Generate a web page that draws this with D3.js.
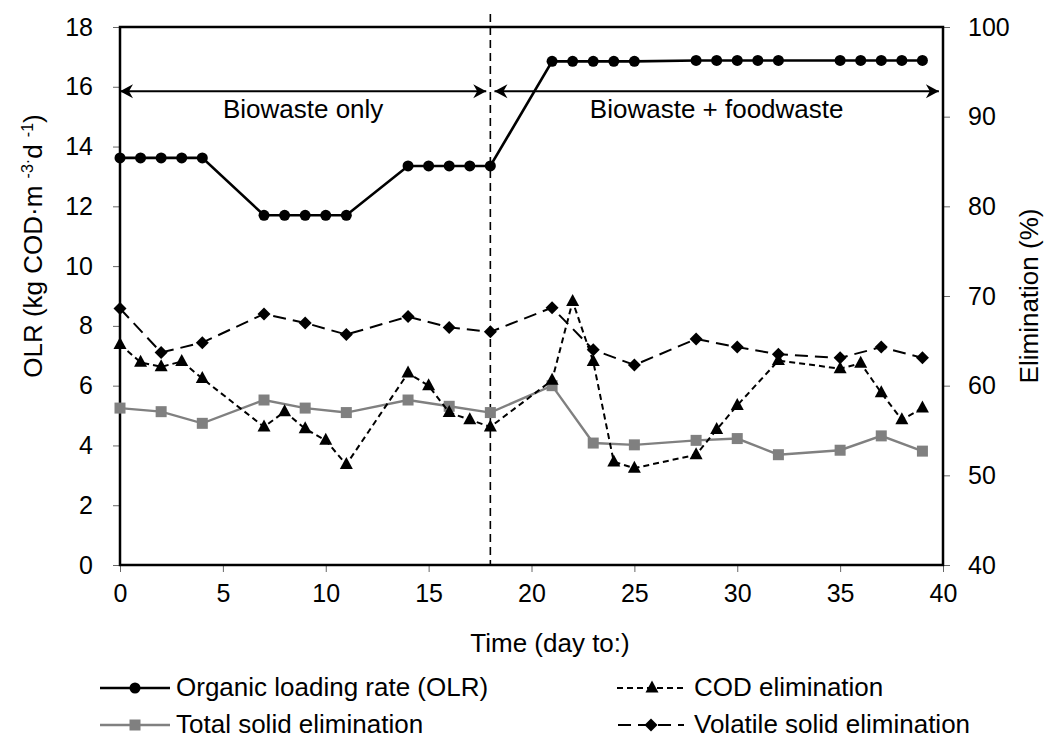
<!DOCTYPE html>
<html>
<head>
<meta charset="utf-8">
<script src="https://cdn.jsdelivr.net/npm/d3@7"></script>
<style>
    body { margin: 0; background: #fff; }
    svg { font-family: Arial, "Liberation Sans", sans-serif; }
    .tick-label { font-size: 25px; fill: #000; }
    .title { font-size: 26px; fill: #000; }
</style>
</head>
<body>
<svg id="chart" width="1054" height="740"></svg>
<script>
// OLR (left axis, kg COD m-3 d-1)
let olr_days = [0,1,2,3,4,7,8,9,10,11,14,15,16,17,18,21,22,23,24,25,28,29,30,31,32,35,36,37,38,39];
let olr_vals = [13.62,13.62,13.62,13.62,13.62,11.7,11.7,11.7,11.7,11.7,13.35,13.35,13.35,13.35,13.35,
                16.85,16.85,16.85,16.85,16.85,16.88,16.88,16.88,16.88,16.88,16.88,16.88,16.88,16.88,16.88];

// eliminations (right axis, %)
let cod_days = [0,1,2,3,4,7,8,9,10,11,14,15,16,17,18,21,22,23,24,25,28,29,30,32,35,36,37,38,39];
let cod_vals = [64.6,62.6,62.1,62.7,60.8,55.4,57.1,55.2,53.9,51.2,61.4,60.0,57.0,56.2,55.4,
                60.6,69.4,62.7,51.5,50.8,52.3,55.1,57.8,62.8,61.9,62.5,59.2,56.2,57.5];
let solid_days = [0,2,4,7,9,11,14,16,18,21,23,25,28,30,32,35,37,39];
let ts_vals = [57.5,57.1,55.8,58.4,57.5,57.0,58.4,57.7,57.0,60.0,53.6,53.4,53.9,54.1,52.3,52.8,54.4,52.7];
let vs_vals = [68.6,63.7,64.8,68.0,67.0,65.7,67.7,66.5,66.0,68.7,64.0,62.3,65.2,64.3,63.5,63.1,64.3,63.1];

let x_ticks = [0,5,10,15,20,25,30,35,40];
let left_ticks = [0,2,4,6,8,10,12,14,16,18];
let right_ticks = [40,50,60,70,80,90,100];

// feed change and the two phase arrows (day, left axis level)
let switch_day = 18;
let phase_labels = ['Biowaste only', 'Biowaste + foodwaste'];
let phase_from = [0, 18.2];
let phase_to = [17.8, 39.8];
let phase_level = 15.85;

var config = {
    left: 120, right: 943, top: 27, bottom: 565
}

let svg = d3.select('#chart');
let x = d3.scaleLinear().domain([0, 40]).range([config.left, config.right]);
let yL = d3.scaleLinear().domain([0, 18]).range([config.bottom, config.top]);
let yR = d3.scaleLinear().domain([40, 100]).range([config.bottom, config.top]);

function drawAxes(){
    let ax = svg.append('g').attr('id', 'axes');

    let bx = ax.append('g')
        .attr('transform', 'translate(0,' + config.bottom + ')')
        .call(d3.axisBottom(x).tickValues(x_ticks).tickSize(7).tickPadding(6));
    let bl = ax.append('g')
        .attr('transform', 'translate(' + config.left + ',0)')
        .call(d3.axisLeft(yL).tickValues(left_ticks).tickSize(7).tickPadding(20));
    let br = ax.append('g')
        .attr('transform', 'translate(' + config.right + ',0)')
        .call(d3.axisRight(yR).tickValues(right_ticks).tickSize(7).tickPadding(18));

    [bx, bl, br].forEach(function(g){
        g.select('.domain').remove();
        g.selectAll('.tick line').attr('stroke', '#666').attr('stroke-width', 1);
        g.selectAll('.tick text')
            .attr('class', 'tick-label')
            .attr('font-family', null)
            .attr('font-size', null);
    });
    bx.selectAll('.tick text').attr('dy', '0.95em');

    // frame of the plot area
    ax.append('rect')
        .attr('x', config.left)
        .attr('y', config.top)
        .attr('width', config.right - config.left)
        .attr('height', config.bottom - config.top)
        .attr('fill', 'none')
        .attr('stroke', '#000')
        .attr('stroke-width', 2.5);

    svg.append('text')
        .attr('class', 'title')
        .attr('x', 550)
        .attr('y', 652)
        .attr('text-anchor', 'middle')
        .text('Time (day to:)');

    svg.append('text')
        .attr('class', 'title')
        .attr('transform', 'translate(1038,' + ((config.top + config.bottom) / 2) + ') rotate(-90)')
        .attr('text-anchor', 'middle')
        .text('Elimination (%)');

    let lt = svg.append('text')
        .attr('class', 'title')
        .attr('transform', 'translate(42,246) rotate(-90)')
        .attr('text-anchor', 'middle');
    lt.append('tspan').text('OLR (kg COD\u00b7m ');
    lt.append('tspan').attr('dy', -9).attr('font-size', 16).text('-3\u00b7');
    lt.append('tspan').attr('dy', 9).text('d ');
    lt.append('tspan').attr('dy', -9).attr('font-size', 16).text('-1');
    lt.append('tspan').attr('dy', 9).text(')');
}

function drawPhases(){
    let g = svg.append('g').attr('id', 'phases');

    g.append('line')
        .attr('x1', x(switch_day)).attr('x2', x(switch_day))
        .attr('y1', 14).attr('y2', config.bottom)
        .attr('stroke', '#000')
        .attr('stroke-width', 1.6)
        .attr('stroke-dasharray', '8,5');

    let y = yL(phase_level);
    for(let i = 0; i < phase_labels.length; i++){
        let x0 = x(phase_from[i]);
        let x1 = x(phase_to[i]);
        g.append('line')
            .attr('x1', x0).attr('x2', x1)
            .attr('y1', y).attr('y2', y)
            .attr('stroke', '#000').attr('stroke-width', 1.8);
        // arrow heads at both ends
        [[x0, 1], [x1, -1]].forEach(function(a){
            let p = a[0], s = a[1];
            g.append('path')
                .attr('d', 'M' + p + ',' + y +
                    'L' + (p + s * 13) + ',' + (y - 7) +
                    'L' + (p + s * 9) + ',' + y +
                    'L' + (p + s * 13) + ',' + (y + 7) + 'Z')
                .attr('fill', '#000');
        });
        g.append('text')
            .attr('class', 'title')
            .attr('x', (x0 + x1) / 2)
            .attr('y', y + 27)
            .attr('text-anchor', 'middle')
            .text(phase_labels[i]);
    }
}

function marker(sel, kind, color){
    if (kind == 'circle'){
        sel.append('circle').attr('r', 5.5).attr('fill', color);
    } else if (kind == 'square'){
        sel.append('rect').attr('x', -5.5).attr('y', -5.5)
            .attr('width', 11).attr('height', 11).attr('fill', color);
    } else if (kind == 'triangle'){
        sel.append('path').attr('d', 'M0,-7.5L6.5,4.5L-6.5,4.5Z').attr('fill', color);
    } else {
        sel.append('path').attr('d', 'M0,-6.5L6.5,0L0,6.5L-6.5,0Z').attr('fill', color);
    }
}

function drawSeries(days, vals, yscale, style){
    let pts = days.map(function(d, i){ return [x(d), yscale(vals[i])]; });
    let g = svg.append('g');
    g.append('path')
        .attr('d', d3.line()(pts))
        .attr('fill', 'none')
        .attr('stroke', style.color)
        .attr('stroke-width', style.width)
        .attr('stroke-dasharray', style.dash);
    g.selectAll('g')
        .data(pts)
        .join('g')
        .attr('transform', function(d){ return 'translate(' + d[0] + ',' + d[1] + ')'; })
        .each(function(){ marker(d3.select(this), style.kind, style.color); });
}

let styles = {
    olr: { color: '#000', width: 2.6, dash: null, kind: 'circle' },
    cod: { color: '#000', width: 2, dash: '6,4', kind: 'triangle' },
    ts: { color: '#808080', width: 2.4, dash: null, kind: 'square' },
    vs: { color: '#000', width: 2, dash: '13,7', kind: 'diamond' }
}

function drawLegend(){
    let items = [
        { label: 'Organic loading rate (OLR)', s: styles.olr, x0: 100, x1: 170, tx: 176, y: 688 },
        { label: 'COD elimination', s: styles.cod, x0: 617, x1: 687, tx: 694, y: 688 },
        { label: 'Total solid elimination', s: styles.ts, x0: 100, x1: 170, tx: 176, y: 725 },
        { label: 'Volatile solid elimination', s: styles.vs, x0: 618, x1: 684, tx: 694, y: 725 }
    ];
    let lg = svg.append('g').attr('id', 'legend');
    items.forEach(function(it){
        lg.append('line')
            .attr('x1', it.x0).attr('x2', it.x1)
            .attr('y1', it.y).attr('y2', it.y)
            .attr('stroke', it.s.color)
            .attr('stroke-width', it.s.width)
            .attr('stroke-dasharray', it.s.dash);
        let m = lg.append('g').attr('transform', 'translate(' + ((it.x0 + it.x1) / 2) + ',' + it.y + ')');
        marker(m, it.s.kind, it.s.color);
        lg.append('text')
            .attr('class', 'title')
            .attr('x', it.tx)
            .attr('y', it.y + 8)
            .text(it.label);
    });
}

drawAxes();
drawPhases();
drawSeries(solid_days, ts_vals, yR, styles.ts);
drawSeries(cod_days, cod_vals, yR, styles.cod);
drawSeries(solid_days, vs_vals, yR, styles.vs);
drawSeries(olr_days, olr_vals, yL, styles.olr);
drawLegend();
</script>
</body>
</html>
